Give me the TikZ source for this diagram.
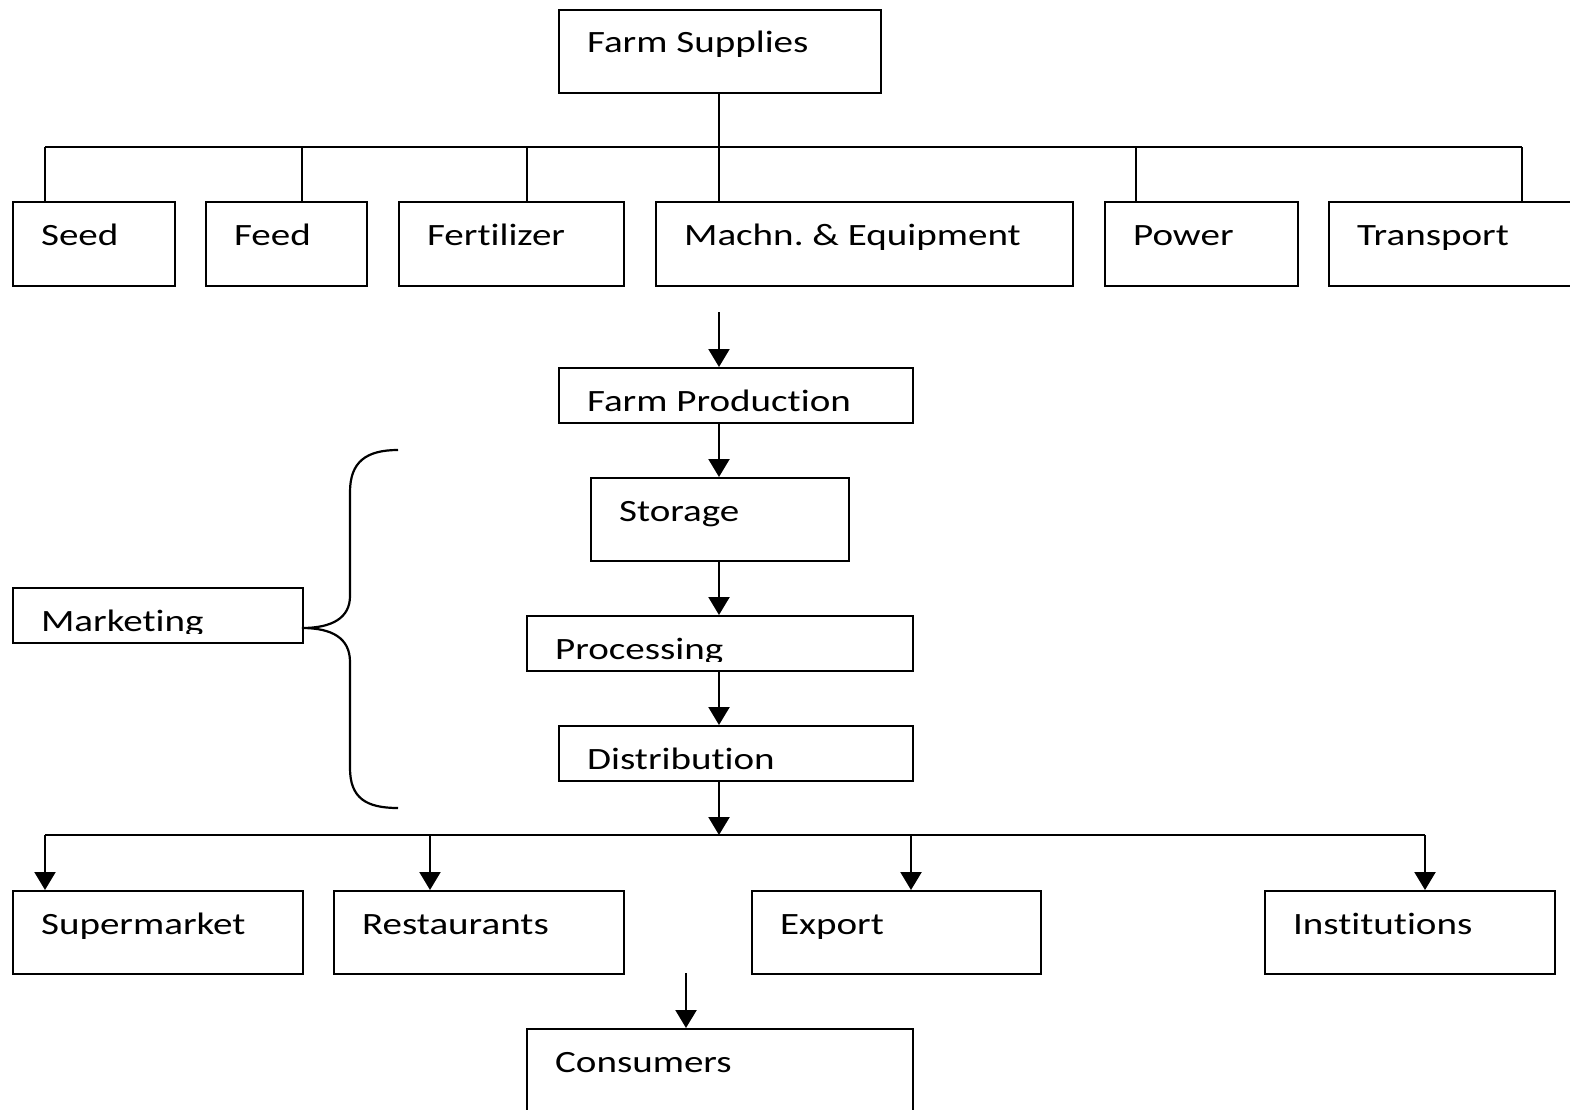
\documentclass[tikz,border=0pt]{standalone}
\usepackage{fontspec}
\newfontfamily\labfont[FakeStretch=1.26,Ligatures={NoCommon,NoRequired,NoContextual}]{Carlito}
\usetikzlibrary{arrows.meta}
\frenchspacing
\begin{document}
\begin{tikzpicture}[x=1pt,y=-1pt,line width=2.2pt,
  box/.style={draw,rectangle,inner sep=0pt,anchor=north west},
  txt/.style={anchor=base west,inner sep=0pt,font=\labfont\fontsize{31}{31}\selectfont},
  arr/.style={-{Triangle[width=21pt,length=18pt]}}]
\useasboundingbox (0,0) rectangle (1570,1109);
\clip (0,0) rectangle (1570,1109);
% boxes
\node[box,minimum width=322pt,minimum height=83pt] (fs) at (558,9) {};
\node[box,minimum width=162pt,minimum height=84pt] (seed) at (12,201) {};
\node[box,minimum width=161pt,minimum height=84pt] (feed) at (205,201) {};
\node[box,minimum width=225pt,minimum height=84pt] (fert) at (398,201) {};
\node[box,minimum width=417pt,minimum height=84pt] (mach) at (655,201) {};
\node[box,minimum width=193pt,minimum height=84pt] (power) at (1104,201) {};
\node[box,minimum width=260pt,minimum height=84pt] (trans) at (1328,201) {};
\node[box,minimum width=354pt,minimum height=55pt] (fp) at (558,367) {};
\node[box,minimum width=258pt,minimum height=83pt] (stor) at (590,477) {};
\node[box,minimum width=386pt,minimum height=55pt] (proc) at (526,615) {};
\node[box,minimum width=354pt,minimum height=55pt] (dist) at (558,725) {};
\node[box,minimum width=290pt,minimum height=55pt] (mkt) at (12,587) {};
\node[box,minimum width=290pt,minimum height=83pt] (sup) at (12,890) {};
\node[box,minimum width=290pt,minimum height=83pt] (rest) at (333,890) {};
\node[box,minimum width=289pt,minimum height=83pt] (exp) at (751,890) {};
\node[box,minimum width=290pt,minimum height=83pt] (inst) at (1264,890) {};
\node[box,minimum width=386pt,minimum height=100pt] (cons) at (526,1028) {};
% texts
\node[txt] (fs-t) at (586,52) {Farm Supplies};
\node[txt] (seed-t) at (40,245) {Seed};
\node[txt] (feed-t) at (233,245) {Feed};
\node[txt] (fert-t) at (426,245) {Fertilizer};
\node[txt] (mach-t) at (683,245) {Machn. \& Equipment};
\node[txt] (power-t) at (1132,245) {Power};
\node[txt] (trans-t) at (1356,245) {Transport};
\node[txt] (fp-t) at (586,411) {Farm Production};
\node[txt] (stor-t) at (618,521) {Storage};
\begin{scope}
\clip (526,615) rectangle (912,661);
\node[txt] (proc-t) at (554,659) {Processing};
\end{scope}
\node[txt] (dist-t) at (586,769) {Distribution};
\begin{scope}
\clip (12,587) rectangle (302,633);
\node[txt] (mkt-t) at (40,631) {Marketing};
\end{scope}
\node[txt] (sup-t) at (40,934) {Supermarket};
\node[txt] (rest-t) at (361,934) {Restaurants};
\node[txt] (exp-t) at (779,934) {Export};
\node[txt] (inst-t) at (1292,934) {Institutions};
\node[txt] (cons-t) at (554,1072) {Consumers};
% top tree
\coordinate (tl) at (45,147);
\coordinate (tr) at (1522,147);
\draw (tl) -- (tr);
\draw (fs.south -| 719,0) -- (719,0 |- mach.north);
\draw (tl) -- (tl |- seed.north);
\draw (302,147) -- (302,0 |- feed.north);
\draw (527,147) -- (527,0 |- fert.north);
\draw (1136,147) -- (1136,0 |- power.north);
\draw (tr) -- (tr |- trans.north);
% middle chain
\coordinate (a0) at (719,312);
\draw[arr] (a0) -- (a0 |- fp.north);
\draw[arr] (fp.south -| 719,0) -- (719,0 |- stor.north);
\draw[arr] (stor.south -| 719,0) -- (719,0 |- proc.north);
\draw[arr] (proc.south -| 719,0) -- (719,0 |- dist.north);
\draw[arr] (dist.south -| 719,0) -- (719,835);
% bottom tree
\coordinate (bl) at (45,835);
\coordinate (br) at (1425,835);
\draw (bl) -- (br);
\draw[arr] (bl) -- (bl |- sup.north);
\draw[arr] (430,835) -- (430,0 |- rest.north);
\draw[arr] (911,835) -- (911,0 |- exp.north);
\draw[arr] (br) -- (br |- inst.north);
\coordinate (c0) at (686,973);
\draw[arr] (c0) -- (c0 |- cons.north);
% brace
\coordinate (tip) at (302,628);
\draw (398,450) .. controls (366,450) and (350,462) .. (350,492) -- (350,596)
  .. controls (350,618) and (332,628) .. (tip)
  .. controls (332,628) and (350,638) .. (350,662) -- (350,768)
  .. controls (350,798) and (366,808) .. (398,808);
\end{tikzpicture}
\end{document}
